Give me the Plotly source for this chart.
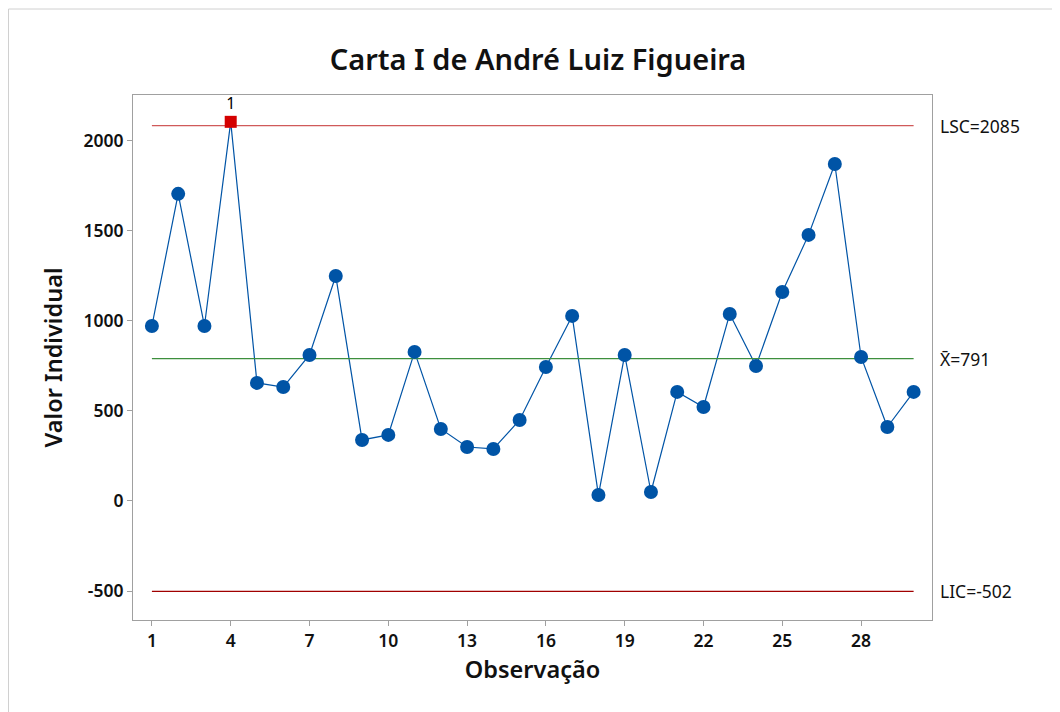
import plotly.graph_objects as go

# Data
obs = list(range(1, 31))
values = [972, 1706, 972, 2106, 656, 633, 811, 1250, 339, 367,
          828, 400, 300, 289, 450, 744, 1028, 33, 811, 50,
          606, 522, 1039, 750, 1161, 1478, 1872, 800, 411, 606]
lsc = 2085
center = 791
lic = -502
out_idx = [4]
x_ticks = [1, 4, 7, 10, 13, 16, 19, 22, 25, 28]
y_ticks = [-500, 0, 500, 1000, 1500, 2000]

BLUE = "#0054a6"
FONT = "Noto Sans"

fig = go.Figure()

fig.add_trace(go.Scatter(x=obs, y=values, mode="lines", line=dict(color=BLUE, width=1.2),
                         hoverinfo="skip", showlegend=False))
# control lines
fig.add_trace(go.Scatter(x=[obs[0], obs[-1]], y=[lsc, lsc], mode="lines",
                         line=dict(color="#d05a5a", width=1.3), showlegend=False))
fig.add_trace(go.Scatter(x=[obs[0], obs[-1]], y=[center, center], mode="lines",
                         line=dict(color="#3d8f3d", width=1.3), showlegend=False))
fig.add_trace(go.Scatter(x=[obs[0], obs[-1]], y=[lic, lic], mode="lines",
                         line=dict(color="#a00000", width=1.3), showlegend=False))

in_x = [o for o in obs if o not in out_idx]
in_y = [v for o, v in zip(obs, values) if o not in out_idx]
fig.add_trace(go.Scatter(x=in_x, y=in_y, mode="markers",
                         marker=dict(color=BLUE, size=14, symbol="circle"), showlegend=False))
out_x = [o for o in obs if o in out_idx]
out_y = [v for o, v in zip(obs, values) if o in out_idx]
fig.add_trace(go.Scatter(x=out_x, y=out_y, mode="markers+text",
                         marker=dict(color="#d40000", size=12, symbol="square"),
                         text=["1"] * len(out_x), textposition="top center",
                         textfont=dict(family=FONT, size=16, color="#000"),
                         showlegend=False))

for val, txt in [(lsc, f"LSC={lsc}"), (center, f"X\u0304={center}"), (lic, f"LIC={lic}")]:
    fig.add_annotation(x=1.0, xref="paper", y=val, yref="y", text=txt, showarrow=False,
                       xanchor="left", xshift=6, font=dict(family=FONT, size=17.5, color="#111"))

axis_common = dict(showline=True, linecolor="#a0a0a0", linewidth=1, mirror=True,
                   ticks="outside", ticklen=5, tickcolor="#a0a0a0", showgrid=False,
                   zeroline=False)

fig.update_xaxes(range=[0.28, 30.7], tickvals=x_ticks, ticktext=[str(t) for t in x_ticks],
                 tickfont=dict(family=FONT, size=17.5, color="#111", weight=600),
                 title=dict(text="Observação", font=dict(family=FONT, size=23.5, color="#111", weight=600),
                            standoff=10),
                 **axis_common)
fig.update_yaxes(range=[-661, 2255], tickvals=y_ticks, ticktext=[str(t) for t in y_ticks],
                 tickfont=dict(family=FONT, size=17.5, color="#111", weight=600),
                 title=dict(text="Valor Individual", font=dict(family=FONT, size=23.5, color="#111", weight=600),
                            standoff=14),
                 **axis_common)

# page offset of ~8px
OFF = 8
W, H = 1060, 712
L, R, T, B = 133 - OFF, 128 + OFF, 95 - OFF, 92 + OFF
pw, ph = W - L - R, H - T - B
def px(x):
    return (x - OFF - L) / pw
def py(y):
    return (H - B - (y - OFF)) / ph
fig.add_shape(type="line", xref="paper", yref="paper", x0=px(8.5), x1=px(W + 20), y0=py(9), y1=py(9),
              line=dict(color="#d0d0d0", width=1))
fig.add_shape(type="line", xref="paper", yref="paper", x0=px(8.5), x1=px(8.5), y0=py(9), y1=py(H + 20),
              line=dict(color="#d0d0d0", width=1))

fig.update_layout(
    width=W, height=H,
    margin=dict(l=L, r=R, t=T, b=B),
    paper_bgcolor="white", plot_bgcolor="white",
    title=dict(text="Carta I de André Luiz Figueira", x=0.5, xanchor="center",
               y=1 - (60 - OFF) / H, yanchor="middle", yref="container",
               font=dict(family=FONT, size=29, color="#111", weight=600)),
    font=dict(family=FONT),
)

fig.write_html("out.html")
